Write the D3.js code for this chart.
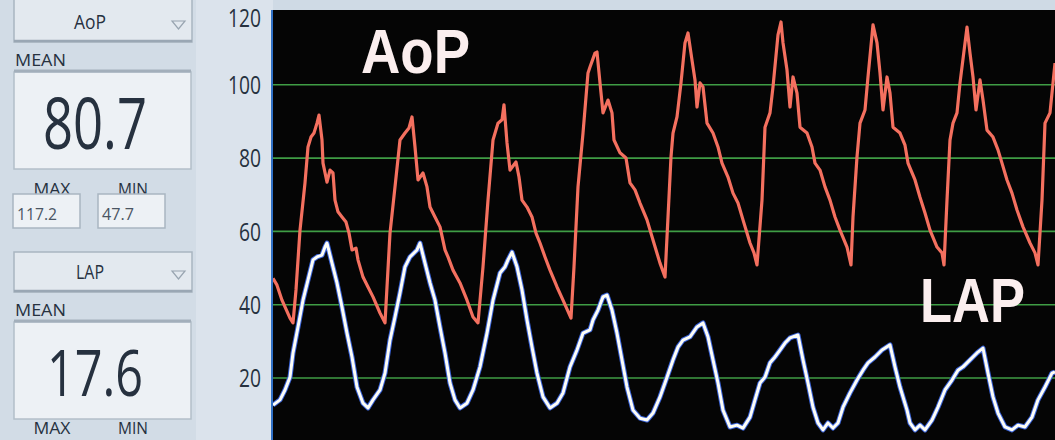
<!DOCTYPE html>
<html>
<head>
<meta charset="utf-8">
<script src="https://cdn.jsdelivr.net/npm/d3@7"></script>
<style>
  body { margin: 0; background: #d3dde7; overflow: hidden; }
  svg { display: block; }
</style>
</head>
<body>
<div class="monitor"></div>
<script>
// Panel readouts
const channels = ['AoP', 'LAP'];
const meanValues = ['80.7', '17.6'];
const maxValues = ['117.2', ''];
const minValues = ['47.7', ''];

// Pressure axis (mmHg)
const yTicks = [20, 40, 60, 80, 100, 120];

// Traces: [time s, pressure mmHg]
const aopPoints = [
    [0.00, 47.1], [0.04, 45.2], [0.09, 41.1], [0.17, 36.2], [0.20, 34.9], [0.23, 43.9],
    [0.27, 60.2], [0.32, 73.1], [0.35, 82.9], [0.38, 85.6], [0.41, 86.7], [0.44, 89.4],
    [0.46, 91.6], [0.49, 84.8], [0.50, 78.5], [0.54, 73.3], [0.57, 76.6], [0.60, 75.8],
    [0.62, 68.4], [0.65, 65.2], [0.69, 63.8], [0.73, 62.4], [0.76, 59.4], [0.79, 54.8],
    [0.83, 55.3], [0.85, 52.1], [0.90, 47.4], [0.95, 44.7], [1.00, 42.0], [1.07, 37.6],
    [1.12, 34.9],
    [1.17, 59.4], [1.22, 72.0], [1.27, 84.8], [1.32, 86.7], [1.36, 88.1], [1.39, 91.1],
    [1.42, 82.9], [1.45, 73.9], [1.50, 75.8], [1.54, 72.0], [1.57, 66.5], [1.62, 63.8],
    [1.67, 61.1], [1.72, 54.8], [1.75, 52.9], [1.80, 49.3], [1.87, 45.8], [1.94, 41.1],
    [2.00, 36.5], [2.05, 34.9],
    [2.10, 50.2], [2.15, 68.4], [2.20, 84.8], [2.25, 89.4], [2.29, 90.3], [2.31, 94.4],
    [2.34, 84.0], [2.37, 76.6], [2.43, 78.8], [2.46, 74.7], [2.49, 68.4], [2.54, 66.5],
    [2.59, 63.8], [2.63, 59.4], [2.67, 56.7], [2.72, 52.9], [2.77, 49.3], [2.84, 44.7],
    [2.90, 41.1], [2.98, 36.2],
    [3.01, 50.2], [3.05, 72.0], [3.10, 86.7], [3.15, 103.1], [3.17, 104.7], [3.22, 108.5],
    [3.24, 108.8], [3.27, 100.4], [3.30, 92.2], [3.35, 95.7], [3.39, 92.2], [3.41, 84.8],
    [3.47, 81.3], [3.53, 79.9], [3.57, 73.1], [3.62, 71.2], [3.67, 67.6], [3.74, 63.0],
    [3.80, 57.5], [3.87, 51.2], [3.92, 47.4],
    [3.95, 63.8], [3.98, 80.2], [4.00, 86.7], [4.04, 91.1], [4.08, 100.4], [4.12, 111.3],
    [4.15, 114.0], [4.19, 106.6], [4.22, 101.2], [4.24, 93.8], [4.27, 100.4], [4.30, 99.3],
    [4.34, 89.4], [4.40, 86.7], [4.45, 82.9], [4.49, 78.5], [4.55, 74.7], [4.60, 70.3],
    [4.65, 67.6], [4.70, 63.0], [4.77, 56.7], [4.81, 54.0], [4.84, 50.7],
    [4.89, 68.4], [4.92, 88.3], [4.97, 92.2], [5.00, 99.3], [5.05, 113.5], [5.08, 117.0],
    [5.10, 111.3], [5.14, 103.9], [5.17, 93.8], [5.20, 102.0], [5.24, 97.6], [5.27, 88.3],
    [5.34, 86.7], [5.39, 82.9], [5.42, 78.5], [5.47, 76.6], [5.52, 72.0], [5.57, 68.4],
    [5.62, 63.8], [5.67, 60.2], [5.74, 55.6], [5.78, 50.7],
    [5.80, 63.8], [5.84, 80.2], [5.87, 89.4], [5.92, 93.0], [5.95, 102.0], [6.00, 116.2],
    [6.04, 111.3], [6.07, 103.1], [6.10, 93.0], [6.14, 102.0], [6.17, 97.6], [6.20, 88.3],
    [6.27, 86.7], [6.32, 83.4], [6.35, 78.5], [6.42, 73.9], [6.47, 69.2], [6.52, 64.9],
    [6.57, 60.2], [6.64, 55.6], [6.69, 54.0], [6.71, 50.7],
    [6.74, 68.4], [6.77, 84.8], [6.80, 89.4], [6.84, 92.2], [6.87, 100.4], [6.94, 115.6],
    [6.97, 108.5], [7.00, 102.0], [7.03, 93.0], [7.07, 101.2], [7.10, 95.7], [7.14, 87.5],
    [7.20, 85.6], [7.25, 82.1], [7.29, 78.5], [7.34, 73.9], [7.39, 70.3], [7.44, 65.7],
    [7.50, 61.1], [7.57, 56.7], [7.62, 54.0], [7.65, 50.7],
    [7.69, 68.4], [7.72, 89.4], [7.77, 92.2], [7.82, 105.8]
];

const lapPoints = [
    [0.00, 12.5], [0.07, 13.9], [0.12, 16.6], [0.17, 20.1], [0.20, 26.7], [0.25, 33.8],
    [0.30, 41.1], [0.35, 46.6], [0.40, 52.1], [0.44, 52.9], [0.49, 53.4], [0.52, 55.6],
    [0.54, 56.7], [0.59, 51.2], [0.64, 45.8], [0.69, 39.2], [0.74, 32.1], [0.79, 25.6],
    [0.84, 17.4], [0.90, 13.0], [0.95, 11.7], [1.00, 13.9], [1.07, 16.6], [1.12, 21.2],
    [1.17, 30.2], [1.22, 36.5], [1.27, 43.1], [1.32, 50.2], [1.37, 52.9], [1.44, 54.8],
    [1.47, 56.7], [1.52, 51.2], [1.57, 45.8], [1.62, 41.1], [1.67, 33.8], [1.72, 26.7],
    [1.77, 18.5], [1.82, 13.9], [1.87, 11.7], [1.94, 13.0], [2.00, 16.6], [2.07, 22.9],
    [2.14, 32.1], [2.20, 41.1], [2.27, 48.5], [2.32, 50.2], [2.35, 52.1], [2.39, 54.2],
    [2.44, 50.2], [2.49, 43.9], [2.54, 35.7], [2.59, 28.3], [2.64, 21.2], [2.70, 14.7],
    [2.77, 11.7], [2.84, 13.0], [2.90, 15.8], [2.97, 22.9], [3.04, 27.5], [3.10, 32.1],
    [3.17, 33.0], [3.20, 35.7], [3.25, 38.4], [3.30, 42.0], [3.34, 42.5], [3.39, 38.4],
    [3.44, 32.1], [3.49, 24.8], [3.54, 17.4], [3.60, 11.1], [3.67, 8.9], [3.74, 8.4],
    [3.80, 10.3], [3.87, 14.7], [3.94, 20.1], [4.00, 24.8], [4.05, 28.3], [4.10, 30.2],
    [4.17, 31.1], [4.24, 33.8], [4.30, 34.9], [4.35, 31.1], [4.40, 24.8], [4.45, 18.5],
    [4.50, 11.1], [4.57, 6.5], [4.64, 7.0], [4.70, 6.2], [4.77, 9.2], [4.82, 13.9],
    [4.87, 18.5], [4.92, 20.1], [4.97, 24.0], [5.02, 25.6], [5.07, 27.5], [5.12, 29.4],
    [5.17, 30.8], [5.25, 31.6], [5.30, 24.8], [5.35, 18.5], [5.40, 11.9], [5.45, 7.6],
    [5.50, 5.7], [5.55, 7.6], [5.60, 6.2], [5.65, 7.6], [5.70, 11.9], [5.77, 15.8],
    [5.84, 19.3], [5.90, 22.0], [5.95, 24.0], [6.02, 25.6], [6.09, 27.5], [6.17, 28.9],
    [6.22, 22.9], [6.27, 17.4], [6.34, 11.1], [6.37, 7.6], [6.42, 5.7], [6.47, 7.0],
    [6.52, 5.7], [6.59, 8.4], [6.65, 11.9], [6.72, 16.6], [6.79, 19.3], [6.85, 22.0],
    [6.90, 22.9], [6.97, 24.8], [7.04, 26.7], [7.10, 28.0], [7.15, 21.2], [7.20, 14.7],
    [7.25, 10.3], [7.32, 6.5], [7.39, 5.7], [7.45, 7.0], [7.52, 6.5], [7.59, 9.2],
    [7.65, 13.9], [7.72, 17.4], [7.79, 21.2], [7.82, 21.5]
];

const width = 1055;
const height = 440;
const plot = {left: 273, top: 10, right: 1055, bottom: 440};
const uiFont = "'Open Sans', 'Noto Sans', sans-serif";
const inkColor = '#26313f';

const svg = d3.select('.monitor')
    .append('svg')
    .attr('width', width)
    .attr('height', height);

// Background: panel column and lighter axis strip
svg.append('rect')
    .attr('width', width).attr('height', height)
    .attr('fill', '#d2dce6');
svg.append('rect')
    .attr('x', 196).attr('y', 0)
    .attr('width', plot.left - 196).attr('height', height)
    .attr('fill', '#dbe3ec');
svg.append('rect')
    .attr('x', plot.left).attr('y', 0)
    .attr('width', width - plot.left).attr('height', plot.top)
    .attr('fill', '#cfdae5');

// Scales
const x = d3.scaleLinear()
    .domain([0, 7.82])
    .range([plot.left, plot.right]);

const y = d3.scaleLinear()
    .domain([0, 120])
    .range([450.8, 11]);

// Plot area
svg.append('rect')
    .attr('x', plot.left).attr('y', plot.top)
    .attr('width', plot.right - plot.left).attr('height', plot.bottom - plot.top)
    .attr('fill', '#050505');
svg.append('line')
    .attr('x1', plot.left - 1).attr('x2', plot.left - 1)
    .attr('y1', plot.top).attr('y2', plot.bottom)
    .attr('stroke', '#2f6fc4').attr('stroke-width', 2);

svg.append('clipPath')
    .attr('id', 'plot-clip')
    .append('rect')
    .attr('x', plot.left).attr('y', plot.top)
    .attr('width', plot.right - plot.left).attr('height', plot.bottom - plot.top);

// Green grid lines
const grid = svg.append('g')
    .attr('class', 'grid')
    .attr('transform', `translate(${plot.left},0)`)
    .call(d3.axisLeft(y)
        .tickValues(yTicks.filter(d => d < 120))
        .tickSize(-(plot.right - plot.left))
        .tickFormat(''));
grid.select('.domain').remove();
grid.selectAll('line')
    .attr('stroke', '#3f9d45')
    .attr('stroke-width', 1.6);

// Y axis labels
const axis = svg.append('g')
    .attr('class', 'y-axis')
    .attr('transform', `translate(${plot.left - 12},0)`)
    .call(d3.axisLeft(y).tickValues(yTicks).tickSize(0).tickPadding(0));
axis.select('.domain').remove();
axis.selectAll('text')
    .attr('font-family', uiFont)
    .attr('font-size', 26)
    .attr('fill', inkColor)
    .attr('dy', '0.36em')
    .attr('textLength', d => String(d).length * 11)
    .attr('lengthAdjust', 'spacingAndGlyphs');
axis.selectAll('.tick')
    .filter(d => d === 120)
    .attr('transform', `translate(0,${y(120) + 7})`);

// Traces
const line = d3.line()
    .x(d => x(d[0]))
    .y(d => y(d[1]));

const traces = svg.append('g').attr('clip-path', 'url(#plot-clip)');

traces.append('path')
    .datum(lapPoints)
    .attr('d', line)
    .attr('fill', 'none')
    .attr('stroke', '#3a63d8')
    .attr('stroke-width', 5)
    .attr('stroke-linejoin', 'round');
traces.append('path')
    .datum(lapPoints)
    .attr('d', line)
    .attr('fill', 'none')
    .attr('stroke', '#fdfdf6')
    .attr('stroke-width', 3)
    .attr('stroke-linejoin', 'round');

traces.append('path')
    .datum(aopPoints)
    .attr('d', line)
    .attr('fill', 'none')
    .attr('stroke', '#f4705f')
    .attr('stroke-width', 3.2)
    .attr('stroke-linejoin', 'round');

// Big channel labels in the plot
const bigLabels = [
    {text: 'AoP', x: 361, y: 73, w: 109},
    {text: 'LAP', x: 920, y: 322, w: 105}
];
svg.selectAll('text.big-label')
    .data(bigLabels)
    .join('text')
    .attr('class', 'big-label')
    .attr('x', d => d.x)
    .attr('y', d => d.y)
    .attr('font-family', "'Liberation Sans', Arial, sans-serif")
    .attr('font-weight', 'bold')
    .attr('font-size', 63)
    .attr('fill', '#fbeeee')
    .attr('textLength', d => d.w)
    .attr('lengthAdjust', 'spacingAndGlyphs')
    .text(d => d.text);

// Left readout panel, one block per channel
function addText(g, txt, xPos, yPos, size, w, anchor) {
    return g.append('text')
        .attr('x', xPos).attr('y', yPos)
        .attr('font-family', uiFont)
        .attr('font-size', size)
        .attr('fill', inkColor)
        .attr('text-anchor', anchor || 'start')
        .attr('textLength', w)
        .attr('lengthAdjust', 'spacingAndGlyphs')
        .text(txt);
}

const blocks = svg.selectAll('g.block')
    .data(channels)
    .join('g')
    .attr('class', 'block')
    .attr('transform', (d, i) => `translate(0,${i * 250})`);

blocks.each(function (name, i) {
    const g = d3.select(this);

    // selector button
    g.append('rect')
        .attr('x', 14).attr('y', i === 0 ? -10 : 2)
        .attr('width', 178).attr('height', i === 0 ? 52 : 40)
        .attr('fill', '#e3e9ef')
        .attr('stroke', '#a9b5c1').attr('stroke-width', 1.5);
    g.append('line')
        .attr('x1', 14).attr('x2', 192)
        .attr('y1', 41).attr('y2', 41)
        .attr('stroke', '#9aa7b4').attr('stroke-width', 2.5);
    addText(g, name, 90, 29, 20, i === 0 ? 32 : 28, 'middle');
    g.append('path')
        .attr('d', 'M172,21 L185,21 L178.5,29 Z')
        .attr('fill', 'none')
        .attr('stroke', '#98a4b0').attr('stroke-width', 1.2);

    // mean readout
    addText(g, 'MEAN', 15, 66, 17, 51);
    g.append('rect')
        .attr('x', 14).attr('y', 72)
        .attr('width', 177).attr('height', 97)
        .attr('fill', '#edf1f5')
        .attr('stroke', '#b3bec9').attr('stroke-width', 1.5);
    g.append('line')
        .attr('x1', 14).attr('x2', 191)
        .attr('y1', 71).attr('y2', 71)
        .attr('stroke', '#a3afbb').attr('stroke-width', 3);
    addText(g, meanValues[i], 95, i === 0 ? 149 : 146, i === 0 ? 72 : 64,
        i === 0 ? 104 : 96, 'middle');

    // max / min (the lower block's labels sit at the screen's bottom edge)
    const labelY = i === 0 ? 195 : 184;
    addText(g, 'MAX', 52, labelY, 17, 37, 'middle');
    addText(g, 'MIN', 133, labelY, 17, 30, 'middle');
    [[13, maxValues[i]], [98, minValues[i]]].forEach(([bx, val]) => {
        g.append('rect')
            .attr('x', bx).attr('y', 194)
            .attr('width', 67).attr('height', 34)
            .attr('fill', '#edf1f5')
            .attr('stroke', '#a9b5c1').attr('stroke-width', 1.5);
        if (val) {
            addText(g, val, bx + 4, 220, 17, val.length * 8, 'start')
                .attr('fill', '#4a5563');
        }
    });
});
</script>
</body>
</html>
